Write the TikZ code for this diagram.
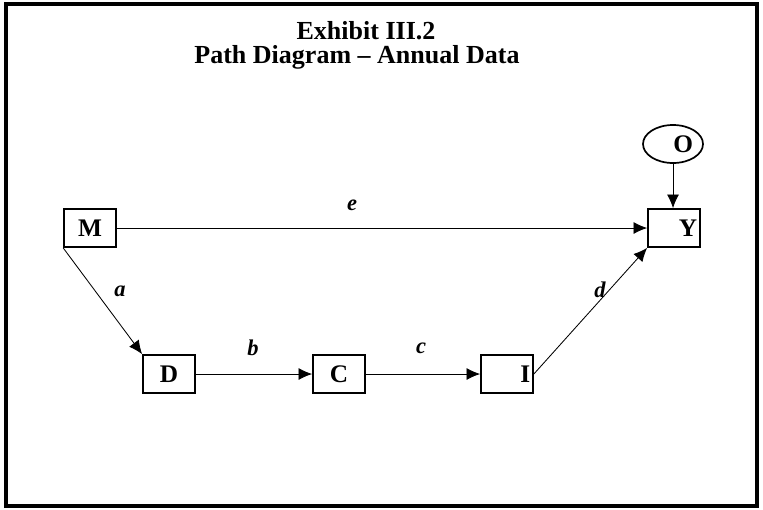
\documentclass[tikz,border=0pt]{standalone}
\usepackage{fontspec}
\setmainfont{Liberation Serif}
\usetikzlibrary{arrows.meta, positioning, shapes.geometric}

\begin{document}
\begin{tikzpicture}[
    x=0.025cm, y=-0.025cm,
    font=\bfseries\fontsize{18}{20}\selectfont,
    heading/.style={font=\bfseries\fontsize{18.5}{20}\selectfont, anchor=base, inner sep=0pt},
    box/.style={draw, line width=1.2pt, rectangle, minimum height=0.95cm, minimum width=1.3cm, inner sep=2pt, align=center},
    rbox/.style={box, text width=1.16cm, align=right},
    oval/.style={draw, line width=1.2pt, ellipse, inner sep=0pt, minimum width=1.5cm, minimum height=0.95cm, text width=1.0cm, align=right},
    lbl/.style={font=\bfseries\itshape\fontsize{16}{19}\selectfont},
    arrow/.style={-{Latex[length=3.4mm, width=3mm]}, semithick}
]
\useasboundingbox (0,0) rectangle (763,509);

% Frame and title
\draw[line width=2.2pt] (6,4) rectangle (757,506);
\node[heading] (title) at (366,39) {Exhibit III.2};
\node[heading] (subtitle) at (357,63) {Path Diagram -- Annual Data};

% Variables
\node[box] (M) at (90,228) {M};
\node[box] (D) at (169,374) {D};
\node[box] (C) at (339,374) {C};
\node[rbox] (I) at (507,374) {I};
\node[rbox] (Y) at (674,228) {Y};
\node[oval] (O) at (673,144) {O};

% Paths
\draw[arrow] (M) -- (Y);
\draw[arrow] (M.south west) -- (D.north west);
\draw[arrow] (D) -- (C);
\draw[arrow] (C) -- (I);
\draw[arrow] (I.east) -- (Y.south west);
\draw[arrow] (O.south) -- (O.south |- Y.north);

% Coefficients
\node[lbl] (e) at (352,205) {e};
\node[lbl] (a) at (120,291) {a};
\node[lbl] (b) at (253,348) {b};
\node[lbl] (c) at (421,348) {c};
\node[lbl] (d) at (600,290) {d};

\end{tikzpicture}
\end{document}
